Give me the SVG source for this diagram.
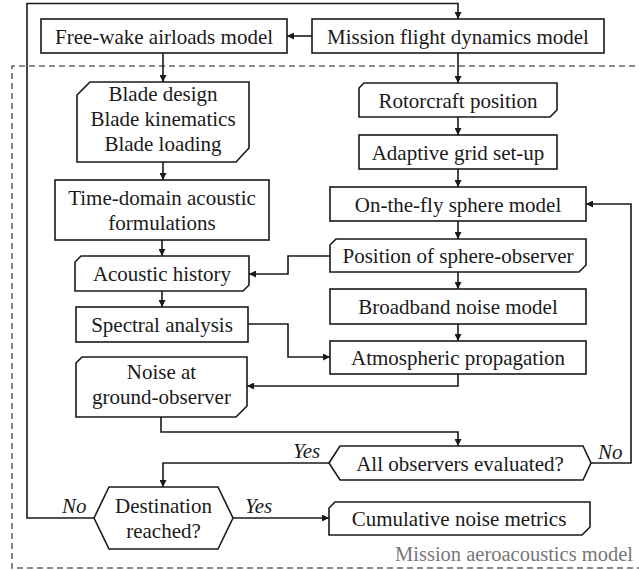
<svg xmlns="http://www.w3.org/2000/svg" width="639" height="570" viewBox="0 0 639 570">
<style>
.b{fill:#fff;stroke:#1a1a1a;stroke-width:1.6}
.t{font-family:"Liberation Serif","Times New Roman",serif;font-size:21px;fill:#1a1a1a;text-anchor:middle}
.l{font-family:"Liberation Serif","Times New Roman",serif;font-size:21px;font-style:italic;fill:#1a1a1a}
.c{fill:none;stroke:#1a1a1a;stroke-width:1.6}
</style>
<defs>
<marker id="a" viewBox="0 0 10 10" refX="10" refY="5" markerWidth="7" markerHeight="7" markerUnits="userSpaceOnUse" orient="auto">
<path d="M0,0 L10,5 L0,10 z" fill="#1a1a1a"/>
</marker>
</defs>
<rect width="639" height="570" fill="#fff"/>
<g id="boundary">
<path d="M645,66 H12 V568 H645" fill="none" stroke="#666" stroke-width="1.6" stroke-dasharray="6 4"/>
<text x="395" y="561" font-family="Liberation Serif,Times New Roman,serif" font-size="20.5" fill="#777">Mission aeroacoustics model</text>
</g>
<g id="connectors">
<path class="c" d="M94,518 H27 V3.5 H458 V19" marker-end="url(#a)"/>
<path class="c" d="M312,36 H287" marker-end="url(#a)"/>
<path class="c" d="M163,53 V82" marker-end="url(#a)"/>
<path class="c" d="M163,162 V180" marker-end="url(#a)"/>
<path class="c" d="M162,240 V256" marker-end="url(#a)"/>
<path class="c" d="M162,291 V307" marker-end="url(#a)"/>
<path class="c" d="M458,53 V83" marker-end="url(#a)"/>
<path class="c" d="M458,117 V135" marker-end="url(#a)"/>
<path class="c" d="M458,169 V187" marker-end="url(#a)"/>
<path class="c" d="M458,221 V239" marker-end="url(#a)"/>
<path class="c" d="M458,272 V289" marker-end="url(#a)"/>
<path class="c" d="M458,324 V341" marker-end="url(#a)"/>
<path class="c" d="M330,256 H288 V274 H249" marker-end="url(#a)"/>
<path class="c" d="M248,324 H288 V357 H330" marker-end="url(#a)"/>
<path class="c" d="M458,374 V386 H247" marker-end="url(#a)"/>
<path class="c" d="M161,417 V432 H458 V446" marker-end="url(#a)"/>
<path class="c" d="M329,463 H163 V487" marker-end="url(#a)"/>
<path class="c" d="M591,463 H631 V204 H586" marker-end="url(#a)"/>
<path class="c" d="M233,518 H329" marker-end="url(#a)"/>
<text class="l" x="293" y="458">Yes</text>
<text class="l" x="598" y="459">No</text>
<text class="l" x="62" y="513">No</text>
<text class="l" x="245" y="513">Yes</text>
</g>
<g id="mission">
<rect class="b" x="312" y="19" width="292" height="34"/>
<text class="t" x="458" y="44">Mission flight dynamics model</text>
</g>
<g id="freewake">
<rect class="b" x="41" y="19" width="246" height="34"/>
<text class="t" x="164" y="44">Free-wake airloads model</text>
</g>
<g id="blade">
<path class="b" d="M90,82 H249 V148 L236,162 H77 V95 Z"/>
<text class="t" x="163" y="101">Blade design</text>
<text class="t" x="163" y="126">Blade kinematics</text>
<text class="t" x="163" y="151">Blade loading</text>
</g>
<g id="timedomain">
<rect class="b" x="55" y="180" width="214" height="60"/>
<text class="t" x="162" y="205">Time-domain acoustic</text>
<text class="t" x="162" y="230">formulations</text>
</g>
<g id="acoustic">
<path class="b" d="M81,256 H249 V285 L243,291 H75 V262 Z"/>
<text class="t" x="162" y="281">Acoustic history</text>
</g>
<g id="spectral">
<rect class="b" x="76" y="307" width="172" height="35"/>
<text class="t" x="162" y="332">Spectral analysis</text>
</g>
<g id="noise">
<path class="b" d="M82,357 H247 V406 L236,417 H76 V363 Z"/>
<text class="t" x="161.5" y="379">Noise at</text>
<text class="t" x="161.5" y="404">ground-observer</text>
</g>
<g id="destination">
<path class="b" d="M94,518 L109,487 H218 L233,518 L218,549 H109 Z"/>
<text class="t" x="163.5" y="513">Destination</text>
<text class="t" x="163.5" y="538">reached?</text>
</g>
<g id="rotorcraft">
<path class="b" d="M364,83 H557 V110 L550,117 H359 V88 Z"/>
<text class="t" x="458" y="108">Rotorcraft position</text>
</g>
<g id="adaptive">
<rect class="b" x="359" y="135" width="198" height="34"/>
<text class="t" x="458" y="160">Adaptive grid set-up</text>
</g>
<g id="onthefly">
<rect class="b" x="330" y="187" width="256" height="34"/>
<text class="t" x="458" y="212">On-the-fly sphere model</text>
</g>
<g id="position">
<path class="b" d="M336,239 H586 V265 L579,272 H330 V245 Z"/>
<text class="t" x="458" y="263">Position of sphere-observer</text>
</g>
<g id="broadband">
<rect class="b" x="330" y="289" width="256" height="35"/>
<text class="t" x="458" y="314">Broadband noise model</text>
</g>
<g id="atmospheric">
<rect class="b" x="330" y="341" width="256" height="33"/>
<text class="t" x="458" y="365">Atmospheric propagation</text>
</g>
<g id="allobservers">
<path class="b" d="M329,463 L340,446 H583 L591,463 L583,480 H340 Z"/>
<text class="t" x="460" y="471">All observers evaluated?</text>
</g>
<g id="cumulative">
<path class="b" d="M335,502 H590 V527 L582,535 H329 V508 Z"/>
<text class="t" x="459" y="526">Cumulative noise metrics</text>
</g>
</svg>
